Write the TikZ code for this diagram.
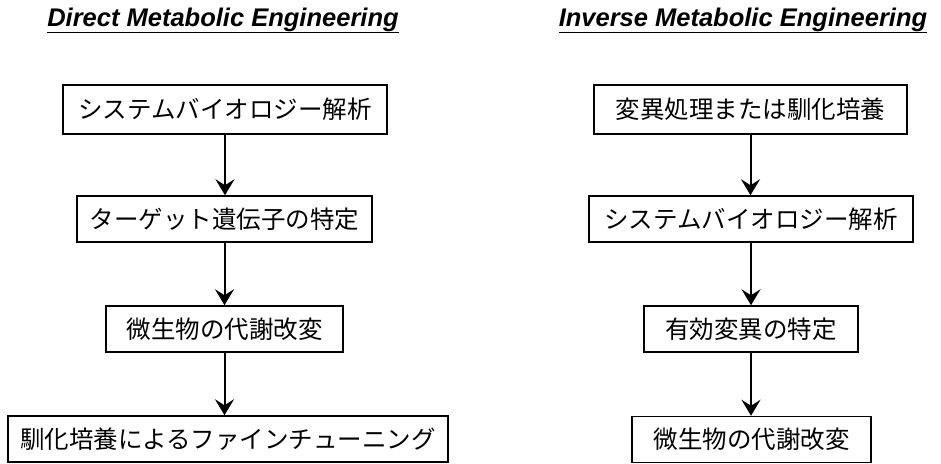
\documentclass[tikz,border=0pt]{standalone}
\usepackage{fontspec}
\setmainfont{Liberation Sans}
\newfontfamily\jpfont{Noto Sans CJK JP}
\usetikzlibrary{arrows.meta}
\tikzset{
  stepbox/.style={draw=black, line width=1.5pt, fill=white, inner sep=0pt,
    font=\jpfont\fontsize{24.5}{29}\selectfont, minimum height=46pt},
  flowarrow/.style={line width=2pt, -{Stealth[length=16pt,width=19pt,inset=6pt]}},
  titletext/.style={font=\fontsize{25.5}{30}\selectfont\bfseries\itshape, inner sep=0pt, anchor=base}
}
\begin{document}
\begin{tikzpicture}[x=1pt,y=-1pt]
\useasboundingbox (0,0) rectangle (941,463);
% titles
\node[titletext] (tl) at (223,26) {\underline{Direct Metabolic Engineering}};
\node[titletext] (tr) at (743,26) {\underline{Inverse Metabolic Engineering}};
% left column
\node[stepbox, minimum width=324pt, minimum height=49pt] (L1) at (225,109.5) {システムバイオロジー解析};
\node[stepbox, minimum width=295pt] (L2) at (224.5,219) {ターゲット遺伝子の特定};
\node[stepbox, minimum width=237pt] (L3) at (224.5,329) {微生物の代謝改変};
\node[stepbox, minimum width=440pt] (L4) at (228,439) {馴化培養によるファインチューニング};
% right column
\node[stepbox, minimum width=313pt, minimum height=49pt] (R1) at (750.5,109.5) {変異処理または馴化培養};
\node[stepbox, minimum width=324pt] (R2) at (751,219) {システムバイオロジー解析};
\node[stepbox, minimum width=214pt] (R3) at (751,329) {有効変異の特定};
\node[stepbox, minimum width=239pt] (R4) at (751.5,439.5) {微生物の代謝改変};
% arrows
\draw[flowarrow] (L1.south) -- (L1.south |- L2.north);
\draw[flowarrow] (L2.south) -- (L2.south |- L3.north);
\draw[flowarrow] (L3.south) -- (L3.south |- L4.north);
\draw[flowarrow] (R1.south) -- (R1.south |- R2.north);
\draw[flowarrow] (R2.south) -- (R2.south |- R3.north);
\draw[flowarrow] (R3.south) -- (R3.south |- R4.north);
\end{tikzpicture}
\end{document}
